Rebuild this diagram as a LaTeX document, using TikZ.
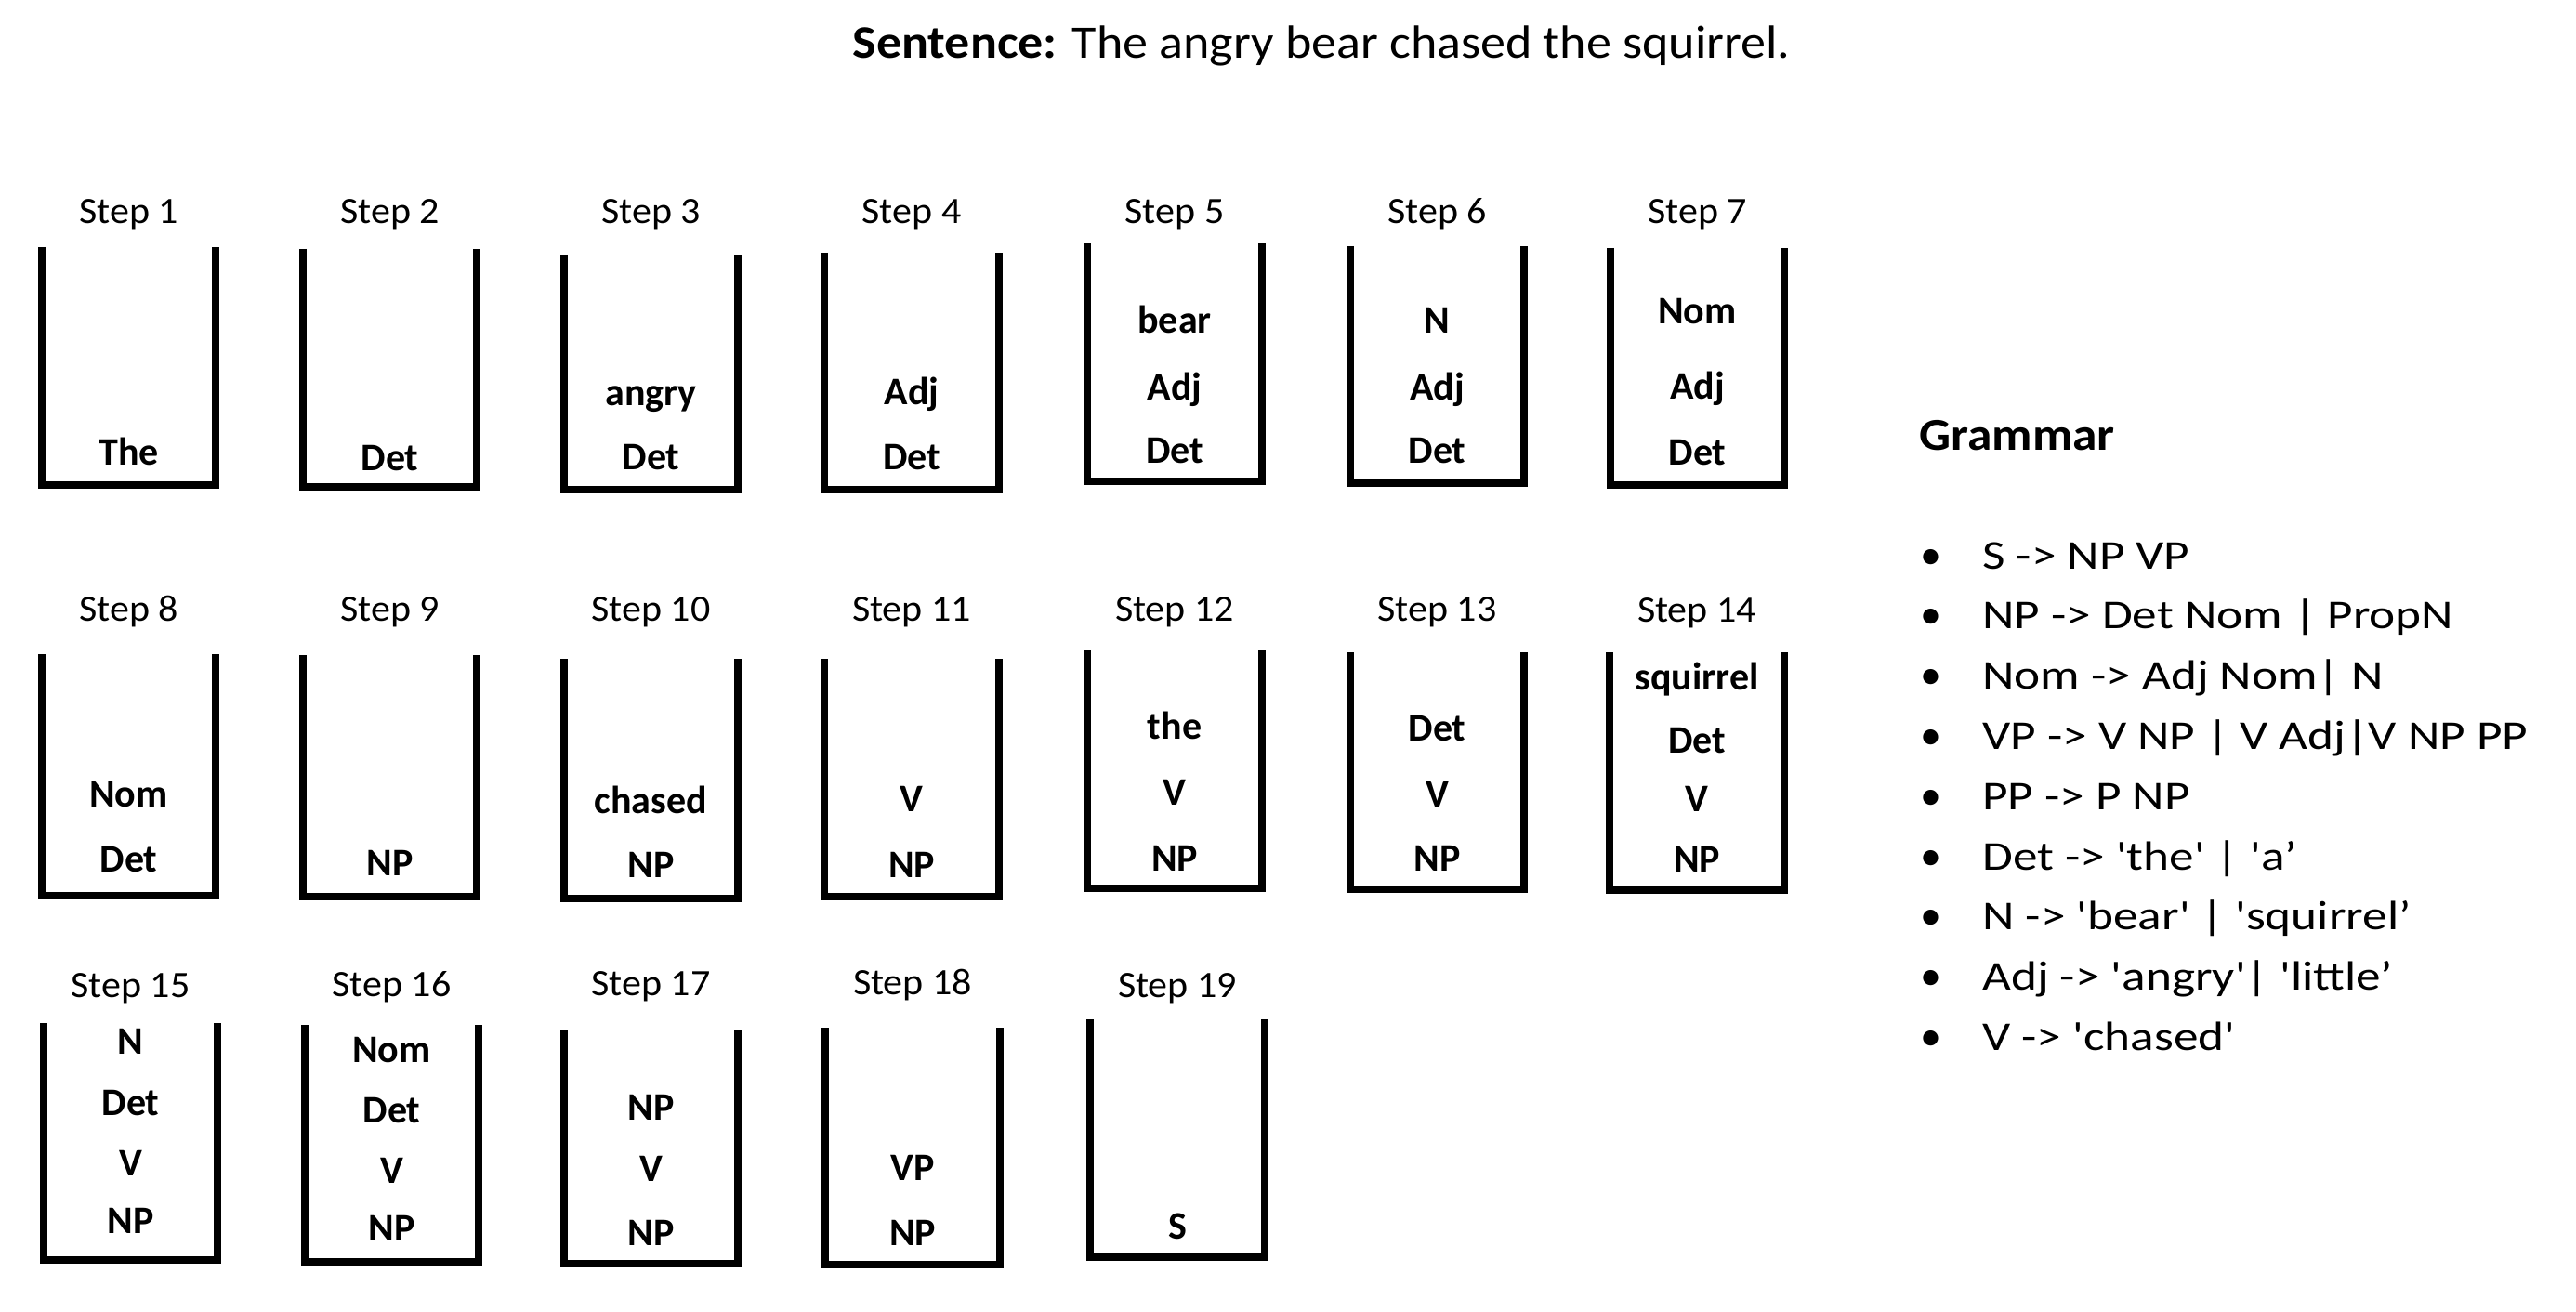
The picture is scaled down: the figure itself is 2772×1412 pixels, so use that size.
\documentclass[tikz,border=0pt]{standalone}
\usepackage{fontspec}
\usepackage{graphicx}
\setmainfont{Carlito}
\usetikzlibrary{calc}
\newcommand\sqt{\textquotesingle}
\newcommand\stk[6]{% id, left, right, top, bottom, label baseline
  \coordinate (c#1) at ({(#2+#3)/2},0);
  \draw[stackline] (#2,#4) -- (#2,#5) -- (#3,#5) -- (#3,#4);
  \node[steplabel] (lab#1) at ({(#2+#3)/2},#6) {\scalebox{1.05}[1]{Step #1}};
}
\newcommand\itm[4]{% id, key, baseline, text
  \node[stackitem] (s#1#2) at ($(c#1)+(0,#3)$) {#4};
}
\newcommand\gline[3]{% key, baseline, text
  \node[gbullet] (gb#1) at (2066,#2) {•};
  \node[gitem] (g#1) at (2133,#2) {\scalebox{1.21}[1]{#3}};
}
\begin{document}
\begin{tikzpicture}[x=0.5pt,y=-0.5pt,
  stackline/.style={line width=4pt, line join=miter, line cap=butt},
  steplabel/.style={anchor=base, inner sep=0pt, font=\fontsize{20pt}{20pt}\selectfont},
  stackitem/.style={anchor=base, inner sep=0pt, font=\fontsize{21pt}{21pt}\selectfont\bfseries},
  gbullet/.style={anchor=base west, inner sep=0pt, font=\fontsize{23pt}{23pt}\selectfont},
  gitem/.style={anchor=base west, inner sep=0pt, font=\fontsize{22pt}{22pt}\selectfont},
  ghead/.style={anchor=base west, inner sep=0pt, font=\fontsize{24.5pt}{24.5pt}\selectfont\bfseries},
  titlestyle/.style={anchor=base, inner sep=0pt, font=\fontsize{25pt}{25pt}\selectfont}]
\fill[white] (0,0) rectangle (2772,1412);
\useasboundingbox (0,0) rectangle (2772,1412);

\node[titlestyle] (title) at (1422,63) {\scalebox{1.08}[1]{\textbf{Sentence:} The angry bear chased the squirrel.}};

% Row 1
\stk{1}{45}{232}{266}{522}{241}
\itm{1}{a}{500}{The}
\stk{2}{326}{513}{268}{524}{241}
\itm{2}{a}{506}{Det}
\stk{3}{607}{794}{274}{527}{241}
\itm{3}{a}{505}{Det}
\itm{3}{b}{436}{angry}
\stk{4}{887}{1075}{272}{527}{241}
\itm{4}{a}{505}{Det}
\itm{4}{b}{435}{Adj}
\stk{5}{1170}{1358}{262}{518}{241}
\itm{5}{a}{498}{Det}
\itm{5}{b}{430}{Adj}
\itm{5}{c}{358}{bear}
\stk{6}{1453}{1640}{265}{520}{241}
\itm{6}{a}{498}{Det}
\itm{6}{b}{430}{Adj}
\itm{6}{c}{358}{N}
\stk{7}{1733}{1920}{267}{522}{241}
\itm{7}{a}{500}{Det}
\itm{7}{b}{429}{Adj}
\itm{7}{c}{348}{Nom}

% Row 2
\stk{8}{45}{232}{704}{964}{668}
\itm{8}{a}{938}{Det}
\itm{8}{b}{868}{Nom}
\stk{9}{326}{513}{705}{965}{668}
\itm{9}{a}{942}{NP}
\stk{10}{607}{794}{709}{967}{668}
\itm{10}{a}{944}{NP}
\itm{10}{b}{875}{chased}
\stk{11}{887}{1075}{709}{965}{668}
\itm{11}{a}{944}{NP}
\itm{11}{b}{873}{V}
\stk{12}{1170}{1358}{700}{956}{668}
\itm{12}{a}{937}{NP}
\itm{12}{b}{866}{V}
\itm{12}{c}{795}{the}
\stk{13}{1453}{1640}{702}{957}{668}
\itm{13}{a}{937}{NP}
\itm{13}{b}{868}{V}
\itm{13}{c}{797}{Det}
\stk{14}{1732}{1920}{702}{958}{669}
\itm{14}{a}{938}{NP}
\itm{14}{b}{873}{V}
\itm{14}{c}{810}{Det}
\itm{14}{d}{742}{squirrel}

% Row 3
\stk{15}{47}{234}{1101}{1356}{1073}
\itm{15}{a}{1327}{NP}
\itm{15}{b}{1265}{V}
\itm{15}{c}{1200}{Det}
\itm{15}{d}{1134}{N}
\stk{16}{328}{515}{1103}{1358}{1072}
\itm{16}{a}{1335}{NP}
\itm{16}{b}{1273}{V}
\itm{16}{c}{1208}{Det}
\itm{16}{d}{1143}{Nom}
\stk{17}{607}{794}{1109}{1360}{1071}
\itm{17}{a}{1340}{NP}
\itm{17}{b}{1271}{V}
\itm{17}{c}{1205}{NP}
\stk{18}{888}{1076}{1106}{1361}{1070}
\itm{18}{a}{1340}{NP}
\itm{18}{b}{1270}{VP}
\stk{19}{1173}{1361}{1097}{1353}{1073}
\itm{19}{a}{1333}{S}

% Grammar
\node[ghead] (ghead) at (2065,484) {\scalebox{1.09}[1]{Grammar}};
\gline{1}{612}{S -> NP VP}
\gline{2}{676.8}{NP -> Det Nom | PropN}
\gline{3}{741.6}{Nom -> Adj Nom| N}
\gline{4}{806.4}{VP -> V NP | V Adj|V NP PP}
\gline{5}{871.2}{PP -> P NP}
\gline{6}{936}{Det -> \sqt the\sqt{} | \sqt a’}
\gline{7}{1000.8}{N -> \sqt bear\sqt{} | \sqt squirrel’}
\gline{8}{1065.6}{Adj -> \sqt angry\sqt| \sqt little’}
\gline{9}{1130.4}{V -> \sqt chased\sqt}
\end{tikzpicture}
\end{document}
